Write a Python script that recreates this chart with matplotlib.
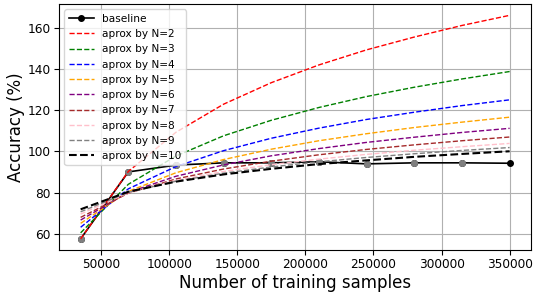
# Accuracy vs training set size, with log approximations for several N

import numpy as np
import matplotlib
matplotlib.use("Agg")
import matplotlib.pyplot as plt

samples = [35000, 70000, 105000, 140000, 175000, 210000, 245000, 280000, 315000, 350000]

baseline = [57.7, 90.1, 93.4, 94.5, 94.5, 95.0, 94.0, 94.5, 94.5, 94.3]

aprox_n2 = [57.7, 90.3, 109.3, 122.9, 133.3, 141.9, 149.2, 155.4, 161.0, 165.9]
aprox_n3 = [60.6, 84.1, 97.8, 107.6, 115.1, 121.3, 126.6, 131.1, 135.1, 138.7]
aprox_n4 = [63.3, 81.9, 92.7, 100.4, 106.4, 111.3, 115.5, 119.0, 122.2, 125.0]
aprox_n5 = [65.2, 80.7, 89.7, 96.1, 101.1, 105.2, 108.6, 111.6, 114.2, 116.6]
aprox_n6 = [66.8, 80.2, 88.0, 93.5, 97.9, 101.4, 104.4, 106.9, 109.2, 111.2]
aprox_n7 = [68.1, 79.8, 86.7, 91.5, 95.3, 98.4, 101.0, 103.2, 105.2, 107.0]
aprox_n8 = [69.7, 80.0, 86.0, 90.3, 93.6, 96.3, 98.6, 100.6, 102.3, 103.9]
aprox_n9 = [70.8, 80.2, 85.6, 89.5, 92.5, 95.0, 97.1, 98.9, 100.5, 101.9]
aprox_n10 = [72.0, 80.5, 85.4, 88.9, 91.6, 93.9, 95.7, 97.4, 98.8, 100.1]

aprox_all = [aprox_n2, aprox_n3, aprox_n4, aprox_n5, aprox_n6,
             aprox_n7, aprox_n8, aprox_n9, aprox_n10]
n_values = [2, 3, 4, 5, 6, 7, 8, 9, 10]
colors = ['red', 'green', 'blue', 'orange', 'purple', 'brown', 'pink', 'gray', 'black']

fig = plt.figure(figsize=(5.43, 2.98), dpi=100)
ax = fig.add_subplot(111)
fig.subplots_adjust(left=0.109, right=0.978, top=0.986, bottom=0.161)

ax.plot(samples, baseline, '-o', color='black', lw=1.2, markersize=4, label='baseline')
ax.plot(samples[:-1], baseline[:-1], 'o', color='gray', markersize=4)

for n, vals, c in zip(n_values, aprox_all, colors):
    lw = 1.5 if n == 10 else 1.0
    ax.plot(samples, vals, '--', color=c, lw=lw, label='aprox by N=' + str(n))

ax.grid(True)
ax.set_yticks([60, 80, 100, 120, 140, 160])
ax.set_xticks([50000, 100000, 150000, 200000, 250000, 300000, 350000])
ax.tick_params(labelsize=8.7, pad=2.5)
ax.set_xlabel('Number of training samples', fontsize=12, labelpad=2)
ax.set_ylabel('Accuracy (%)', fontsize=12, labelpad=2)
ax.legend(loc='upper left', fontsize=7.6, handlelength=2.4)

plt.savefig('out.png', dpi=100)
